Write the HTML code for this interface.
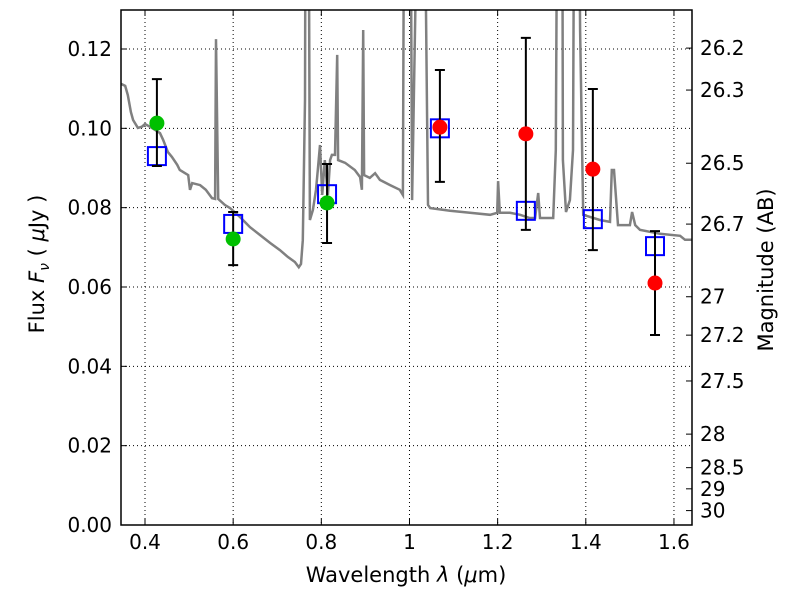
<!DOCTYPE html>
<html><head><meta charset="utf-8"><style>
body{margin:0;background:#fff}
svg{font-family:"DejaVu Sans","Liberation Sans",sans-serif}
</style></head><body>
<svg id="c" width="800" height="600" xmlns="http://www.w3.org/2000/svg"></svg>
<script>
const specW=[0.346,0.355,0.361,0.368,0.373,0.384,0.393,0.400,0.411,0.423,0.434,0.441,0.452,0.461,0.473,0.479,0.498,0.502,0.507,0.525,0.538,0.552,0.559,0.561,0.566,0.581,0.593,0.616,0.638,0.661,0.684,0.706,0.724,0.740,0.749,0.754,0.758,0.763,0.765,0.770,0.774,0.781,0.788,0.792,0.797,0.802,0.808,0.815,0.820,0.824,0.831,0.836,0.838,0.854,0.876,0.888,0.892,0.895,0.897,0.910,0.922,0.933,0.956,0.978,0.985,0.989,1.001,1.006,1.024,1.031,1.042,1.047,1.092,1.137,1.183,1.199,1.201,1.205,1.228,1.251,1.273,1.285,1.292,1.296,1.326,1.332,1.337,1.346,1.348,1.355,1.364,1.371,1.375,1.382,1.387,1.394,1.432,1.455,1.459,1.464,1.473,1.500,1.505,1.512,1.523,1.568,1.614,1.625,1.641];
const specF=[0.1112,0.1107,0.1084,0.1041,0.1021,0.1001,0.1004,0.1011,0.1004,0.0996,0.0988,0.0971,0.0940,0.0928,0.0908,0.0895,0.0882,0.0845,0.0862,0.0857,0.0845,0.0824,0.0822,0.1225,0.0822,0.0807,0.0799,0.0776,0.0751,0.0731,0.0711,0.0693,0.0676,0.0663,0.0650,0.0658,0.0718,0.1071,0.2,0.2,0.0769,0.0794,0.0845,0.0895,0.0958,0.0832,0.0920,0.0832,0.0920,0.0933,0.0933,0.1185,0.0920,0.0913,0.0895,0.0877,0.0845,0.1248,0.0882,0.0875,0.0887,0.0870,0.0857,0.0845,0.0832,0.2,0.2,0.0819,0.2,0.2,0.0807,0.0799,0.0792,0.0787,0.0782,0.0787,0.0867,0.0787,0.0787,0.0782,0.0774,0.0774,0.0837,0.0774,0.0774,0.0945,0.2,0.2,0.0920,0.0789,0.0819,0.0945,0.2,0.2,0.1248,0.0782,0.0769,0.0764,0.0895,0.0895,0.0756,0.0756,0.0789,0.0756,0.0744,0.0734,0.0729,0.0719,0.0719];
const obsW=[0.427,0.600,0.813,1.069,1.264,1.416,1.557];
const obsF=[0.1013,0.0721,0.0812,0.1003,0.0986,0.0897,0.0610];
const errHi=[0.1124,0.0789,0.0910,0.1147,0.1228,0.1099,0.0741];
const errLo=[0.0905,0.0655,0.0711,0.0865,0.0744,0.0693,0.0479];
const obsColor=['#00c000','#00c000','#00c000','#ff0000','#ff0000','#ff0000','#ff0000'];
const modelF=[0.0930,0.0759,0.0834,0.1000,0.0792,0.0771,0.0703];
const xTicks=[0.4,0.6,0.8,1.0,1.2,1.4,1.6];
const xTickLabels=['0.4','0.6','0.8','1','1.2','1.4','1.6'];
const yTicks=[0,0.02,0.04,0.06,0.08,0.10,0.12];
const yTickLabels=['0.00','0.02','0.04','0.06','0.08','0.10','0.12'];
const magTicks=[26.2,26.3,26.5,26.7,27,27.2,27.5,28,28.5,29,30];

const L=121,R=692,T=10,B=525;
const X=w=>145+(w-0.4)*440.8;
const Y=f=>525-f*3966.7;
const NS='http://www.w3.org/2000/svg';
const svg=document.getElementById('c');
function mk(tag,attrs,parent){const e=document.createElementNS(NS,tag);for(const k in attrs)e.setAttribute(k,attrs[k]);(parent||svg).appendChild(e);return e;}

const defs=mk('defs',{});
const cp=mk('clipPath',{id:'clip'},defs);
mk('rect',{x:L,y:T,width:R-L,height:B-T},cp);

xTicks.forEach((v,i)=>{
 const g=mk('line',{x1:X(v),x2:X(v),y1:T,y2:B,stroke:'#000','stroke-width':1,'stroke-dasharray':'1,3'});
 
 
 mk('line',{x1:X(v),x2:X(v),y1:B,y2:B-6,stroke:'#000'});
 mk('line',{x1:X(v),x2:X(v),y1:T,y2:T+6,stroke:'#000'});
 const t=mk('text',{x:X(v),y:B+24,'font-size':20,'text-anchor':'middle'});
 t.textContent=xTickLabels[i];
 
 
});
yTicks.forEach((v,i)=>{
 const g=mk('line',{x1:L,x2:R,y1:Y(v),y2:Y(v),stroke:'#000','stroke-width':1,'stroke-dasharray':'1,3'});
 
 
 mk('line',{x1:L,x2:L+6,y1:Y(v),y2:Y(v),stroke:'#000'});
 const t=mk('text',{x:L-9,y:Y(v)+7,'font-size':20,'text-anchor':'end'});
 t.textContent=yTickLabels[i];
 
 
});
magTicks.forEach(m=>{
 const f=Math.pow(10,(23.9-m)/2.5);
 mk('line',{x1:R,x2:R-6,y1:Y(f),y2:Y(f),stroke:'#000'});
 const t=mk('text',{x:R+8,y:Y(f)+7,'font-size':20});
 t.textContent=String(m);
 
 
});

let d='';
specW.forEach((w,i)=>{d+=(i?'L':'M')+X(w).toFixed(1)+','+Y(specF[i]).toFixed(1);});
const sp=mk('path',{d:d,fill:'none',stroke:'#808080','stroke-width':2.5,'clip-path':'url(#clip)'});



modelF.forEach((f,i)=>{
 const r=mk('rect',{x:X(obsW[i])-9,y:Y(f)-9,width:18,height:18,fill:'none',stroke:'#0000ff','stroke-width':2});
 
 
});
obsW.forEach((w,i)=>{
 const x=X(w);
 const e=mk('path',{d:`M${x},${Y(errHi[i])}V${Y(errLo[i])}M${x-5},${Y(errHi[i])}h10M${x-5},${Y(errLo[i])}h10`,stroke:'#000','stroke-width':2,fill:'none'});
 
 
 const c=mk('circle',{cx:x,cy:Y(obsF[i]),r:7.5,fill:obsColor[i]});
 
 
});

const fr=mk('rect',{x:L,y:T,width:R-L,height:B-T,fill:'none',stroke:'#000','stroke-width':1.5});



const xt=mk('text',{x:406,y:582,'font-size':21,'text-anchor':'middle'});
xt.innerHTML='Wavelength  <tspan font-style="italic">λ</tspan> (<tspan font-style="italic">μ</tspan>m)';


const yt=mk('text',{x:0,y:0,'font-size':21,'text-anchor':'middle',transform:'translate(44,264) rotate(-90)'});
yt.innerHTML='Flux  <tspan font-style="italic">F</tspan><tspan font-style="italic" font-size="14" dy="5">ν</tspan><tspan dy="-5">  (  </tspan><tspan font-style="italic">μ</tspan>Jy )';


const rt=mk('text',{x:0,y:0,'font-size':21,'text-anchor':'middle',transform:'translate(773,270) rotate(-90)'});
rt.textContent='Magnitude (AB)';


</script>
</body></html>
